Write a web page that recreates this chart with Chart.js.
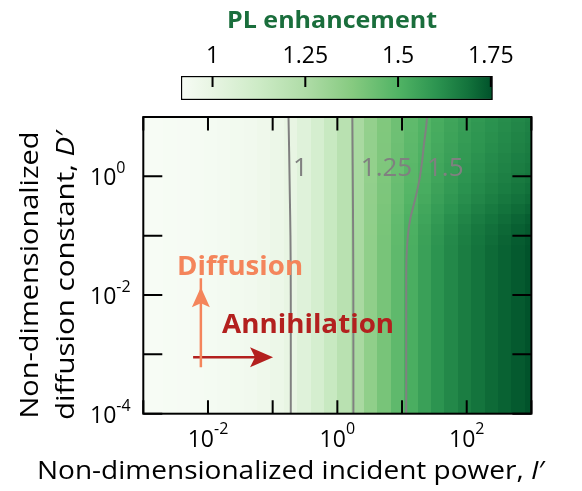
<!DOCTYPE html>
<html><head><meta charset="utf-8">
<script src="https://cdn.jsdelivr.net/npm/chart.js@4/dist/chart.umd.min.js"></script>
<style>
html,body{margin:0;padding:0;background:#fff;}
#wrap{position:relative;width:582px;height:491px;background:#fff;}
#wrap canvas{position:absolute;left:0;top:0;}
</style></head><body>
<div id="wrap"><canvas id="main" width="582" height="491"></canvas><canvas id="cbar" width="582" height="491"></canvas></div>
<script>
// ---------- data (log10 exponents of the grid cell centres) ----------
const powerExp = [-3.000,-2.793,-2.586,-2.379,-2.172,-1.966,-1.759,-1.552,-1.345,-1.138,-0.931,-0.724,-0.517,-0.310,-0.103,0.103,0.310,0.517,0.724,0.931,1.138,1.345,1.552,1.759,1.966,2.172,2.379,2.586,2.793,3.000];
const diffusionExp = [-4.000,-3.828,-3.655,-3.483,-3.310,-3.138,-2.966,-2.793,-2.621,-2.448,-2.276,-2.103,-1.931,-1.759,-1.586,-1.414,-1.241,-1.069,-0.897,-0.724,-0.552,-0.379,-0.207,-0.034,0.138,0.310,0.483,0.655,0.828,1.000];

// PL enhancement for rows with small D' (rows 0..16, identical)
const enhancementLowD = [0.915,0.917,0.919,0.922,0.926,0.930,0.935,0.941,0.949,0.960,0.976,0.999,1.040,1.088,1.145,1.210,1.270,1.345,1.410,1.468,1.520,1.565,1.603,1.635,1.662,1.685,1.705,1.722,1.738,1.752];
// rows 17..29 (large D'): columns 17..29 (columns 0..16 equal the low-D row)
const enhancementHighD = [
 [1.345,1.409,1.466,1.517,1.561,1.599,1.631,1.657,1.680,1.700,1.717,1.733,1.747],
 [1.344,1.407,1.463,1.513,1.557,1.593,1.625,1.651,1.674,1.693,1.710,1.726,1.739],
 [1.343,1.405,1.460,1.508,1.550,1.585,1.616,1.642,1.664,1.683,1.700,1.715,1.729],
 [1.342,1.402,1.455,1.501,1.541,1.575,1.605,1.630,1.651,1.670,1.687,1.702,1.715],
 [1.340,1.399,1.450,1.494,1.531,1.565,1.593,1.618,1.639,1.658,1.674,1.689,1.702],
 [1.339,1.397,1.446,1.488,1.524,1.557,1.585,1.609,1.629,1.648,1.663,1.678,1.691],
 [1.338,1.395,1.443,1.483,1.518,1.549,1.577,1.600,1.621,1.639,1.654,1.669,1.682],
 [1.338,1.394,1.440,1.479,1.513,1.544,1.571,1.594,1.614,1.632,1.647,1.662,1.674],
 [1.337,1.392,1.438,1.476,1.509,1.539,1.565,1.588,1.608,1.626,1.641,1.656,1.668],
 [1.336,1.391,1.435,1.473,1.505,1.534,1.560,1.583,1.602,1.620,1.635,1.649,1.662],
 [1.336,1.390,1.433,1.470,1.501,1.530,1.556,1.578,1.598,1.615,1.630,1.644,1.656],
 [1.335,1.389,1.431,1.467,1.498,1.526,1.551,1.574,1.593,1.610,1.625,1.639,1.651],
 [1.335,1.388,1.430,1.465,1.495,1.523,1.548,1.570,1.589,1.606,1.621,1.635,1.647]
];
const highStartRow = 17;
const highStartCol = 17;

// contour lines (log10 exponents)
const contourLevels = ['1','1.25','1.5'];
const contour1PowerExp   = [-0.720,-0.720,-0.725,-0.735,-0.745,-0.755];
const contour1DiffExp    = [-4.0,-2.0,-1.0,-0.3,0.4,1.0];
const contour125PowerExp = [0.248,0.247,0.243,0.237,0.232];
const contour125DiffExp  = [-4.0,-2.0,-0.8,0.2,1.0];
const contour15PowerExp  = [1.065,1.065,1.068,1.090,1.130,1.200,1.270,1.310,1.340,1.370,1.387];
const contour15DiffExp   = [-4.0,-2.0,-1.4,-1.0,-0.7,-0.4,-0.05,0.25,0.55,0.8,1.0];
const contourLabelPowerExp = [-0.685,0.362,1.386];
const contourLabelDiffExp  = [0.0,0.0,0.0];

// ticks
const xTickExp  = [-3,-2,-1,0,1,2,3];
const xLabelExp = [-2,0,2];
const yTickExp  = [-4,-3,-2,-1,0,1];
const yLabelExp = [-4,-2,0];
const cbMin = 0.915, cbMax = 1.755;
const cbTicks = [1,1.25,1.5,1.75];
const cbTickLabels = ['1','1.25','1.5','1.75'];

// arrows & annotation text (log10 exponents)
const diffusionArrow    = {fromP:-2.11, fromD:-3.216, toP:-2.11, toD:-1.867};
const annihilationArrow = {fromP:-2.23, fromD:-3.047, toP:-0.994, toD:-3.047};
const diffusionText     = {p:-2.478, d:-1.664, text:'Diffusion'};
const annihilationText  = {p:-1.782, d:-2.637, text:'Annihilation'};

// ---------- styles ----------
const FONT = '"Open Sans", "DejaVu Sans", sans-serif';
const cmapStops = [
  [0.00,'#f7fcf5'],[0.10,'#e8f5e3'],[0.25,'#cdebc6'],[0.40,'#afdca7'],
  [0.55,'#86ca80'],[0.70,'#50b364'],[0.82,'#2c9450'],[0.92,'#13733c'],[1.00,'#00512a']
];
const CONTOUR_COLOR = '#808080';
const DIFF_COLOR = '#f4855b';
const ANN_COLOR = '#b3201e';
const TITLE_GREEN = '#1a6e3c';

function hex2rgb(h){return [parseInt(h.substr(1,2),16),parseInt(h.substr(3,2),16),parseInt(h.substr(5,2),16)];}
const cmapRGB = cmapStops.map(s=>[s[0],hex2rgb(s[1])]);
function colorFor(v){
  let p=(v-cbMin)/(cbMax-cbMin); p=Math.max(0,Math.min(1,p));
  for(let i=1;i<cmapRGB.length;i++){
    if(p<=cmapRGB[i][0]){
      const a=cmapRGB[i-1],b=cmapRGB[i]; const t=(p-a[0])/(b[0]-a[0]);
      const c=a[1].map((x,j)=>Math.round(x+(b[1][j]-x)*t));
      return 'rgb('+c.join(',')+')';
    }
  }
  return cmapStops[cmapStops.length-1][1];
}
function enhancementAt(row,col){
  if(row>=highStartRow && col>=highStartCol) return enhancementHighD[row-highStartRow][col-highStartCol];
  return enhancementLowD[col];
}
function edges(c){
  const e=[c[0]-(c[1]-c[0])/2];
  for(let i=1;i<c.length;i++) e.push((c[i-1]+c[i])/2);
  e.push(c[c.length-1]+(c[c.length-1]-c[c.length-2])/2);
  return e;
}
const pts=(px,dy)=>px.map((p,i)=>({x:Math.pow(10,p),y:Math.pow(10,dy[i])}));

// text helper with optional horizontal fit
function drawParts(ctx, parts, x, y, align, targetW){
  let total=0; const ws=[];
  parts.forEach(pt=>{ctx.font=pt[1]; const w=ctx.measureText(pt[0]).width; ws.push(w); total+=w;});
  const s = targetW ? targetW/total : 1;
  ctx.save(); ctx.translate(x,y); ctx.scale(s,1);
  let cx = align==='center' ? -total/2 : (align==='right' ? -total : 0);
  ctx.textAlign='left';
  parts.forEach((pt,i)=>{ctx.font=pt[1]; ctx.fillText(pt[0],cx,0); cx+=ws[i];});
  ctx.restore();
}
function arrowHead(ctx, tx, ty, dx, dy, len, halfW, notch, color){
  const n=Math.hypot(dx,dy); const ux=dx/n, uy=dy/n; const vx=-uy, vy=ux;
  ctx.beginPath();
  ctx.moveTo(tx,ty);
  ctx.lineTo(tx-ux*len+vx*halfW, ty-uy*len+vy*halfW);
  ctx.lineTo(tx-ux*(len-notch), ty-uy*(len-notch));
  ctx.lineTo(tx-ux*len-vx*halfW, ty-uy*len-vy*halfW);
  ctx.closePath(); ctx.fillStyle=color; ctx.fill();
}

const heatmapPlugin = {
  id:'heatmap',
  beforeDatasetsDraw(chart){
    const {ctx, chartArea:a, scales:{x,y}} = chart;
    const ex=edges(powerExp), ey=edges(diffusionExp);
    ctx.save(); ctx.beginPath(); ctx.rect(a.left,a.top,a.right-a.left,a.bottom-a.top); ctx.clip();
    for(let r=0;r<diffusionExp.length;r++){
      const y0=Math.round(y.getPixelForValue(Math.pow(10,ey[r])));
      const y1=Math.round(y.getPixelForValue(Math.pow(10,ey[r+1])));
      for(let c=0;c<powerExp.length;c++){
        const x0=Math.round(x.getPixelForValue(Math.pow(10,ex[c])));
        const x1=Math.round(x.getPixelForValue(Math.pow(10,ex[c+1])));
        ctx.fillStyle=colorFor(enhancementAt(r,c));
        ctx.fillRect(x0,y1,x1-x0,y0-y1);
      }
    }
    ctx.restore();
  },
  afterDatasetsDraw(chart){
    const {ctx, chartArea:a, scales:{x,y}} = chart;
    const X=e=>x.getPixelForValue(Math.pow(10,e)), Y=e=>y.getPixelForValue(Math.pow(10,e));
    // contour labels
    ctx.save(); ctx.fillStyle=CONTOUR_COLOR; ctx.textBaseline='alphabetic';
    contourLevels.forEach((t,i)=>{ drawParts(ctx,[[t,'26px '+FONT]],X(contourLabelPowerExp[i]),Y(contourLabelDiffExp[i]),'left'); });
    ctx.restore();
    // arrow heads
    arrowHead(ctx,X(diffusionArrow.toP),Y(diffusionArrow.toD),0,-1,20,9,4,DIFF_COLOR);
    arrowHead(ctx,X(annihilationArrow.toP),Y(annihilationArrow.toD),1,0,23,10,5,ANN_COLOR);
    // annotation text
    ctx.save();
    ctx.fillStyle=DIFF_COLOR; drawParts(ctx,[[diffusionText.text,'bold 27px '+FONT]],X(diffusionText.p),Y(diffusionText.d),'left',126);
    ctx.fillStyle=ANN_COLOR; drawParts(ctx,[[annihilationText.text,'bold 27px '+FONT]],X(annihilationText.p),Y(annihilationText.d),'left',172);
    ctx.restore();
    // frame
    ctx.save(); ctx.strokeStyle='#000'; ctx.lineWidth=2;
    ctx.strokeRect(a.left,a.top,a.right-a.left,a.bottom-a.top);
    ctx.beginPath();
    xTickExp.forEach(e=>{const px=X(e); ctx.moveTo(px,a.bottom); ctx.lineTo(px,a.bottom-13.5); ctx.moveTo(px,a.top); ctx.lineTo(px,a.top+13.5);});
    yTickExp.forEach(e=>{const py=Y(e); ctx.moveTo(a.left,py); ctx.lineTo(a.left+19,py); ctx.moveTo(a.right,py); ctx.lineTo(a.right-19,py);});
    ctx.stroke(); ctx.restore();
    // tick labels
    ctx.save(); ctx.fillStyle='#000';
    xLabelExp.forEach(e=>{
      const px=X(e);
      ctx.font='23px '+FONT; const w1=ctx.measureText('10').width;
      ctx.font='16px '+FONT; const w2=ctx.measureText(String(e)).width;
      const l=px-(w1+w2)/2;
      ctx.textAlign='left';
      ctx.font='23px '+FONT; ctx.fillText('10',l,447);
      ctx.font='16px '+FONT; ctx.fillText(String(e),l+w1,434);
    });
    yLabelExp.forEach(e=>{
      const py=Y(e);
      ctx.textAlign='left';
      ctx.font='23px '+FONT; const w1=ctx.measureText('10').width; ctx.fillText('10',90,py+9);
      ctx.font='16px '+FONT; ctx.fillText(String(e),90+w1,py-3);
    });
    ctx.restore();
    // axis titles
    ctx.save(); ctx.fillStyle='#000';
    drawParts(ctx,[['Non-dimensionalized incident power, ','26px '+FONT],['I','italic 26px '+FONT],['\u2032','26px '+FONT]],37,479,'left',508);
    ctx.save(); ctx.translate(38,275); ctx.rotate(-Math.PI/2);
    drawParts(ctx,[['Non-dimensionalized','26px '+FONT]],0,0,'center',287);
    ctx.restore();
    ctx.save(); ctx.translate(74,275); ctx.rotate(-Math.PI/2);
    drawParts(ctx,[['diffusion constant, ','26px '+FONT],['D','italic 26px '+FONT],['\u2032','26px '+FONT]],0,0,'center',290);
    ctx.restore();
    ctx.restore();
  }
};

const lineDs=(data,color,w)=>({data,showLine:true,borderColor:color,borderWidth:w,pointRadius:0,tension:0.35,fill:false});

new Chart(document.getElementById('main'),{
  type:'scatter',
  data:{datasets:[
    lineDs(pts(contour1PowerExp,contour1DiffExp),CONTOUR_COLOR,2),
    lineDs(pts(contour125PowerExp,contour125DiffExp),CONTOUR_COLOR,2),
    lineDs(pts(contour15PowerExp,contour15DiffExp),CONTOUR_COLOR,2),
    Object.assign(lineDs(pts([diffusionArrow.fromP,diffusionArrow.toP],[diffusionArrow.fromD,diffusionArrow.toD+0.15]),DIFF_COLOR,2.5),{tension:0}),
    Object.assign(lineDs(pts([annihilationArrow.fromP,annihilationArrow.toP-0.15],[annihilationArrow.fromD,annihilationArrow.toD]),ANN_COLOR,2.5),{tension:0})
  ]},
  options:{
    responsive:false, animation:false, devicePixelRatio:1,
    layout:{padding:{left:143.3,top:117,right:50.6,bottom:77.3}},
    scales:{
      x:{type:'logarithmic',min:1e-3,max:1e3,display:false},
      y:{type:'logarithmic',min:1e-4,max:10,display:false}
    },
    plugins:{legend:{display:false},tooltip:{enabled:false}}
  },
  plugins:[heatmapPlugin]
});

// ---------- colour bar ----------
const cbarPlugin = {
  id:'cbarDeco',
  afterDraw(chart){
    const {ctx, chartArea:a, scales:{x}} = chart;
    ctx.save(); ctx.strokeStyle='#000'; ctx.lineWidth=2; ctx.beginPath();
    cbTicks.forEach(v=>{const px=x.getPixelForValue(v); ctx.moveTo(px,a.top); ctx.lineTo(px,a.top+11);});
    ctx.stroke();
    ctx.fillStyle='#000'; ctx.font='23px '+FONT; ctx.textAlign='center';
    cbTicks.forEach((v,i)=>ctx.fillText(cbTickLabels[i],x.getPixelForValue(v),63));
    ctx.fillStyle=TITLE_GREEN;
    drawParts(ctx,[['PL enhancement','bold 23px '+FONT]],332,27.5,'center',210);
    ctx.restore();
  }
};
new Chart(document.getElementById('cbar'),{
  type:'bar',
  data:{labels:['PL'],datasets:[{
    data:[[cbMin,cbMax]],
    backgroundColor:(c)=>{
      const a=c.chart.chartArea; if(!a) return '#ccc';
      const g=c.chart.ctx.createLinearGradient(a.left,0,a.right,0);
      cmapStops.forEach(s=>g.addColorStop(s[0],s[1])); return g;
    },
    borderColor:'#000',borderWidth:1.5,borderSkipped:false,barPercentage:1,categoryPercentage:1
  }]},
  options:{
    indexAxis:'y', responsive:false, animation:false, devicePixelRatio:1,
    layout:{padding:{left:181,top:76,right:89.3,bottom:391}},
    scales:{x:{type:'linear',min:cbMin,max:cbMax,display:false},y:{display:false}},
    plugins:{legend:{display:false},tooltip:{enabled:false}}
  },
  plugins:[cbarPlugin]
});
</script></body></html>
